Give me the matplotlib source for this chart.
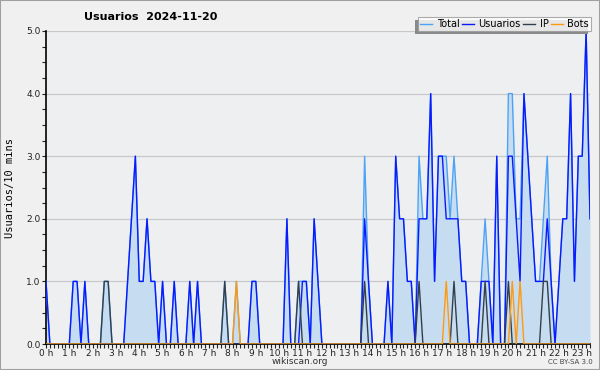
import matplotlib
matplotlib.use('Agg')
import matplotlib.pyplot as plt
from matplotlib.patches import Rectangle
import numpy as np

# valores por intervalo de 10 minutos, 2024-11-20
total = [1, 0, 0, 0, 0, 0, 0, 1, 1, 0, 1, 0, 0, 0, 0, 1, 1, 0, 0, 0,
         0, 1, 2, 3, 1, 1, 2, 1, 1, 0, 1, 0, 0, 1, 0, 0, 0, 1, 0, 1,
         0, 0, 0, 0, 0, 0, 1, 0, 0, 1, 0, 0, 0, 1, 1, 0, 0, 0, 0, 0,
         0, 0, 2, 0, 0, 1, 1, 1, 0, 2, 1, 0, 0, 0, 0, 0, 0, 0, 0, 0,
         0, 0, 3, 1, 0, 0, 0, 0, 1, 0, 3, 2, 2, 1, 1, 0, 3, 2, 2, 4,
         1, 3, 3, 3, 2, 3, 2, 1, 1, 0, 0, 0, 1, 2, 1, 0, 3, 0, 0, 4,
         4, 2, 2, 4, 3, 2, 1, 1, 2, 3, 1, 0, 1, 2, 2, 4, 1, 3, 3, 5,
         2]
usuarios = [1, 0, 0, 0, 0, 0, 0, 1, 1, 0, 1, 0, 0, 0, 0, 0, 0, 0, 0, 0,
            0, 1, 2, 3, 1, 1, 2, 1, 1, 0, 1, 0, 0, 1, 0, 0, 0, 1, 0, 1,
            0, 0, 0, 0, 0, 0, 0, 0, 0, 0, 0, 0, 0, 1, 1, 0, 0, 0, 0, 0,
            0, 0, 2, 0, 0, 0, 1, 1, 0, 2, 1, 0, 0, 0, 0, 0, 0, 0, 0, 0,
            0, 0, 2, 1, 0, 0, 0, 0, 1, 0, 3, 2, 2, 1, 1, 0, 2, 2, 2, 4,
            1, 3, 3, 2, 2, 2, 2, 1, 1, 0, 0, 0, 1, 1, 1, 0, 3, 0, 0, 3,
            3, 2, 1, 4, 3, 2, 1, 1, 1, 2, 1, 0, 1, 2, 2, 4, 1, 3, 3, 5,
            2]
ip = [0, 0, 0, 0, 0, 0, 0, 0, 0, 0, 0, 0, 0, 0, 0, 1, 1, 0, 0, 0,
      0, 0, 0, 0, 0, 0, 0, 0, 0, 0, 0, 0, 0, 0, 0, 0, 0, 0, 0, 0,
      0, 0, 0, 0, 0, 0, 1, 0, 0, 0, 0, 0, 0, 0, 0, 0, 0, 0, 0, 0,
      0, 0, 0, 0, 0, 1, 0, 0, 0, 0, 0, 0, 0, 0, 0, 0, 0, 0, 0, 0,
      0, 0, 1, 0, 0, 0, 0, 0, 0, 0, 0, 0, 0, 0, 0, 0, 1, 0, 0, 0,
      0, 0, 0, 0, 0, 1, 0, 0, 0, 0, 0, 0, 0, 1, 0, 0, 0, 0, 0, 1,
      0, 0, 0, 0, 0, 0, 0, 0, 1, 1, 0, 0, 0, 0, 0, 0, 0, 0, 0, 0,
      0]
bots = [0, 0, 0, 0, 0, 0, 0, 0, 0, 0, 0, 0, 0, 0, 0, 0, 0, 0, 0, 0,
        0, 0, 0, 0, 0, 0, 0, 0, 0, 0, 0, 0, 0, 0, 0, 0, 0, 0, 0, 0,
        0, 0, 0, 0, 0, 0, 0, 0, 0, 1, 0, 0, 0, 0, 0, 0, 0, 0, 0, 0,
        0, 0, 0, 0, 0, 0, 0, 0, 0, 0, 0, 0, 0, 0, 0, 0, 0, 0, 0, 0,
        0, 0, 0, 0, 0, 0, 0, 0, 0, 0, 0, 0, 0, 0, 0, 0, 0, 0, 0, 0,
        0, 0, 0, 1, 0, 0, 0, 0, 0, 0, 0, 0, 0, 0, 0, 0, 0, 0, 0, 0,
        1, 0, 1, 0, 0, 0, 0, 0, 0, 0, 0, 0, 0, 0, 0, 0, 0, 0, 0, 0,
        0]
horas = ['%d h' % h for h in range(24)]

x = np.arange(len(total)) / 6.0

fig = plt.figure(figsize=(6, 3.7), dpi=100, facecolor='#f0f0f0')
fig.patches.append(Rectangle((0, 0), 1, 1, transform=fig.transFigure, fill=False,
                             edgecolor='#a0a0a0', linewidth=1.5))
ax = fig.add_axes([46 / 600, 26 / 370, 544 / 600, 313 / 370])
ax.set_facecolor('#eeeff1')

ax.fill_between(x, total, color='#c6dcf0', linewidth=0, zorder=1)
ax.plot(x, total, color='#4ca3f5', lw=1.0, label='Total', zorder=3)
ax.plot(x, usuarios, color='#0a1aff', lw=1.0, label='Usuarios', zorder=4)
ax.plot(x, ip, color='#333f4a', lw=1.0, label='IP', zorder=5)
ax.plot(x, bots, color='#ff9a10', lw=1.0, label='Bots', zorder=6)

ax.set_xlim(0, x[-1])
ax.set_ylim(0, 5)
ax.set_yticks(np.arange(0, 5.1, 1))
ax.set_yticklabels(['%.1f' % v for v in np.arange(0, 5.1, 1)])
ax.set_yticks(np.arange(0, 5.01, 0.25), minor=True)
ax.set_xticks(range(24))
ax.set_xticklabels(horas)
ax.set_xticks(np.arange(0, x[-1] + 0.01, 1 / 6), minor=True)
ax.tick_params(axis='both', which='both', direction='out', labelsize=6.5,
               colors='#222222', width=0.8, length=3)
ax.tick_params(axis='x', which='major', pad=0.5)
ax.tick_params(axis='y', which='major', pad=1)
ax.yaxis.grid(True, color='#c8c8cc', lw=0.9)
ax.set_axisbelow(True)
for s in ['top', 'right']:
    ax.spines[s].set_visible(False)
for s in ['left', 'bottom']:
    ax.spines[s].set_color('black')
    ax.spines[s].set_linewidth(1.2)

ax.set_ylabel('Usuarios/10 mins', family='DejaVu Sans Mono', fontsize=7.5, labelpad=8)
fig.text(151 / 600, 1 - 16.5 / 370, 'Usuarios  2024-11-20', ha='center', va='center',
         fontsize=8, fontweight='bold')
fig.text(300 / 600, 1 - 362 / 370, 'wikiscan.org', ha='center', va='center',
         fontsize=6.5, color='#333333')
fig.text(570 / 600, 1 - 362 / 370, 'CC BY-SA 3.0', ha='center', va='center',
         fontsize=5, color='#444444')

leg = ax.legend(loc='upper right', bbox_to_anchor=(591 / 600, 1 - 17 / 370),
                bbox_transform=fig.transFigure, ncol=4, fontsize=7, frameon=True,
                fancybox=False, handlelength=1.2, handletextpad=0.5,
                columnspacing=0.25, borderpad=0.2, borderaxespad=0)
leg.set_zorder(10)
leg.get_frame().set_edgecolor('#999999')
leg.get_frame().set_facecolor('white')
leg.get_frame().set_linewidth(0.8)

# sombra de la leyenda, desplazada a la izquierda y abajo
fig.canvas.draw()
bb = leg.get_window_extent().transformed(fig.transFigure.inverted())
dx, dy = 3 / 600, 3 / 370
sombra = Rectangle((bb.x0 - dx, bb.y0 - dy), bb.width, bb.height,
                   transform=fig.transFigure, facecolor='#8a8a8a',
                   edgecolor='none', zorder=9, clip_on=False)
ax.add_artist(sombra)

fig.savefig('out.png', dpi=100, facecolor=fig.get_facecolor())
